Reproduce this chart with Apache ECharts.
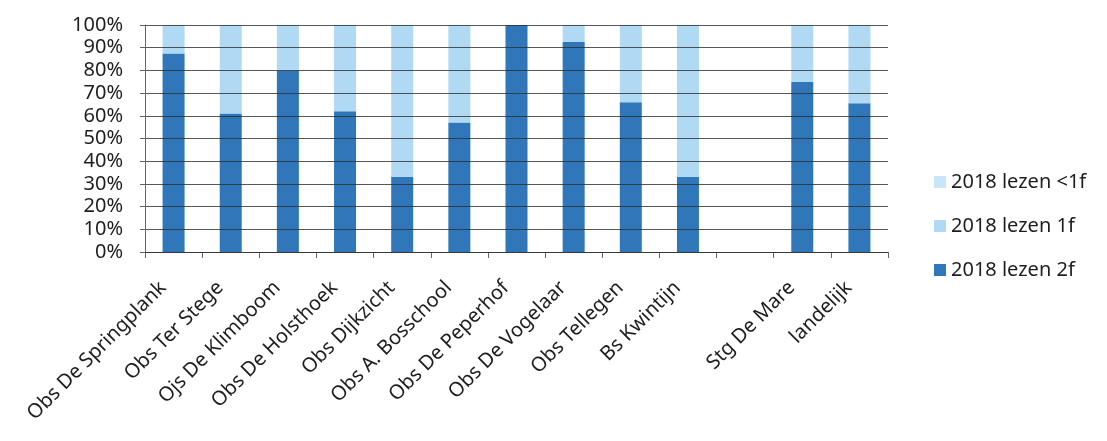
<!DOCTYPE html>
<html>
<head>
<meta charset="utf-8">
<script src="https://cdn.jsdelivr.net/npm/echarts@6/dist/echarts.min.js"></script>
<style>
  html, body { margin: 0; padding: 0; background: #fff; }
  #chart { width: 1107px; height: 441px; }
</style>
</head>
<body>
<div id="chart"></div>
<script>
// categories along the x axis (one empty slot between Kwintijn and Stg De Mare)
const schools = ['Obs De Springplank', 'Obs Ter Stege', 'Ojs De Klimboom', 'Obs De Holsthoek',
  'Obs Dijkzicht', 'Obs A. Bosschool', 'Obs De Peperhof', 'Obs De Vogelaar', 'Obs Tellegen',
  'Bs Kwintijn', '', 'Stg De Mare', 'landelijk'];
// percentages
const lezen2f = [87.5, 61, 80, 62, 33, 57, 100, 92.5, 66, 33, null, 75, 65.5];
const lezen1f = [12.5, 39, 20, 38, 67, 43, 0, 7.5, 34, 67, null, 25, 34.5];
const lezenMin1f = [0, 0, 0, 0, 0, 0, 0, 0, 0, 0, null, 0, 0];
const yTicks = [0, 10, 20, 30, 40, 50, 60, 70, 80, 90, 100];

const chart = echarts.init(document.getElementById('chart'));
const font = '"Noto Sans", "Open Sans", sans-serif';

chart.setOption({
  animation: false,
  grid: { left: 145, right: 219, top: 25, bottom: 189 },
  legend: {
    orient: 'vertical',
    left: 929,
    top: 167,
    itemWidth: 12,
    itemHeight: 12,
    itemGap: 24,
    icon: 'rect',
    data: ['2018 lezen <1f', '2018 lezen 1f', '2018 lezen 2f'],
    textStyle: { fontFamily: font, fontSize: 20, color: '#1e1e1e' }
  },
  xAxis: {
    type: 'category',
    data: schools,
    axisLine: { lineStyle: { color: '#666' } },
    axisTick: { show: true, interval: 0, length: 6, lineStyle: { color: '#666' } },
    axisLabel: {
      interval: 0,
      rotate: 45,
      margin: 22,
      padding: [0, 15, 0, 0],
      fontFamily: font,
      fontSize: 20,
      color: '#1e1e1e'
    }
  },
  yAxis: {
    type: 'value',
    min: 0,
    max: 100,
    interval: 10,
    z: 3,
    axisLine: { show: true, lineStyle: { color: '#666' } },
    axisTick: { show: true, length: 5, lineStyle: { color: '#666' } },
    splitLine: { lineStyle: { color: 'rgba(45,45,45,0.8)', width: 1 } },
    axisLabel: {
      margin: 22,
      fontFamily: font,
      fontSize: 20,
      color: '#1e1e1e',
      formatter: v => yTicks.includes(v) ? v + '%' : ''
    }
  },
  series: [
    {
      name: '2018 lezen 2f',
      type: 'bar',
      stack: 'all',
      barWidth: 22,
      data: lezen2f,
      itemStyle: { color: '#2f77b9' }
    },
    {
      name: '2018 lezen 1f',
      type: 'bar',
      stack: 'all',
      barWidth: 22,
      data: lezen1f,
      itemStyle: { color: '#b0daf3' }
    },
    {
      name: '2018 lezen <1f',
      type: 'bar',
      stack: 'all',
      barWidth: 22,
      data: lezenMin1f,
      itemStyle: { color: '#c8e6f8' }
    }
  ]
});
</script>
</body>
</html>
